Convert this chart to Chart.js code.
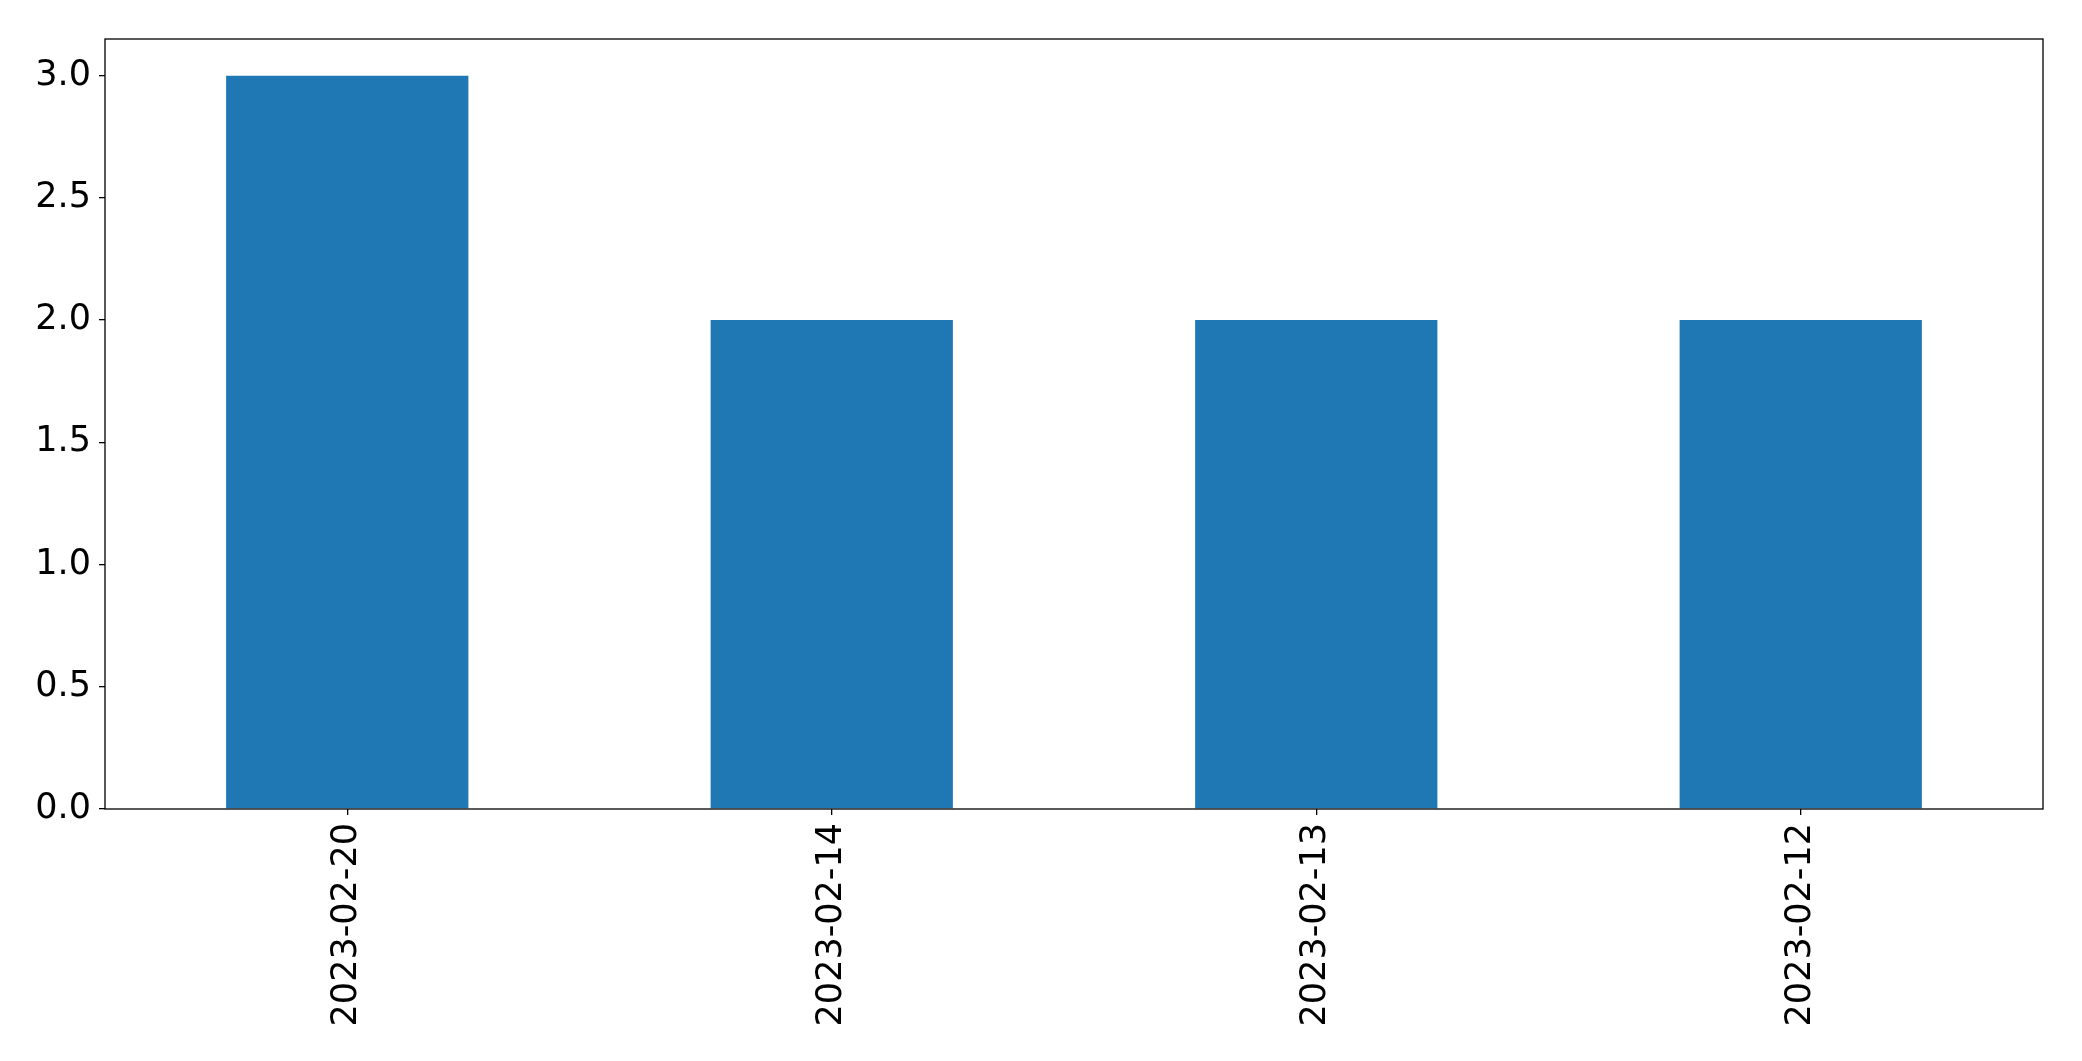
<!DOCTYPE html>
<html>
<head>
<meta charset="utf-8">
<script src="https://cdn.jsdelivr.net/npm/chart.js@4/dist/chart.umd.min.js"></script>
<style>
  html, body { margin: 0; padding: 0; background: #fff; }
  #wrap { width: 2082px; height: 1061px; }
</style>
</head>
<body>
<div id="wrap"><canvas id="chart" width="2082" height="1061"></canvas></div>
<script>
const dates = ['2023-02-20', '2023-02-14', '2023-02-13', '2023-02-12'];
const counts = [3, 2, 2, 2];
const yTicks = [0, 0.5, 1, 1.5, 2, 2.5, 3];

const frame = {
  id: 'frame',
  afterDatasetsDraw(chart) {
    const { ctx, chartArea: a } = chart;
    ctx.save();
    ctx.strokeStyle = '#000';
    ctx.lineWidth = 1.3;
    ctx.strokeRect(a.left, a.top, a.right - a.left, a.bottom - a.top);
    ctx.restore();
  }
};

Chart.defaults.font.family = 'DejaVu Sans';
Chart.defaults.font.size = 35;
Chart.defaults.color = '#000';

new Chart(document.getElementById('chart'), {
  type: 'bar',
  data: {
    labels: dates,
    datasets: [{
      data: counts,
      backgroundColor: '#1f77b4',
      borderWidth: 0,
      categoryPercentage: 1,
      barPercentage: 0.5,
    }],
  },
  options: {
    responsive: false,
    animation: false,
    layout: { padding: { top: 39, right: 39, left: 0, bottom: 0 } },
    plugins: { legend: { display: false }, tooltip: { enabled: false } },
    scales: {
      x: {
        grid: { offset: false, drawOnChartArea: false, tickLength: 6, color: '#000', lineWidth: 1.3 },
        border: { display: false },
        ticks: { maxRotation: 90, minRotation: 90, padding: 8, autoSkip: false },
        afterFit(scale) { scale.height = 1061 - 809; },
      },
      y: {
        min: 0,
        max: 3.15,
        grid: { drawOnChartArea: false, tickLength: 6, color: '#000', lineWidth: 1.3 },
        border: { display: false },
        ticks: {
          padding: 8,
          callback: v => v.toFixed(1),
        },
        afterBuildTicks(scale) {
          scale.ticks = yTicks.map(v => ({ value: v }));
        },
        afterFit(scale) { scale.width = 105; },
      },
    },
  },
  plugins: [frame],
});
</script>
</body>
</html>
